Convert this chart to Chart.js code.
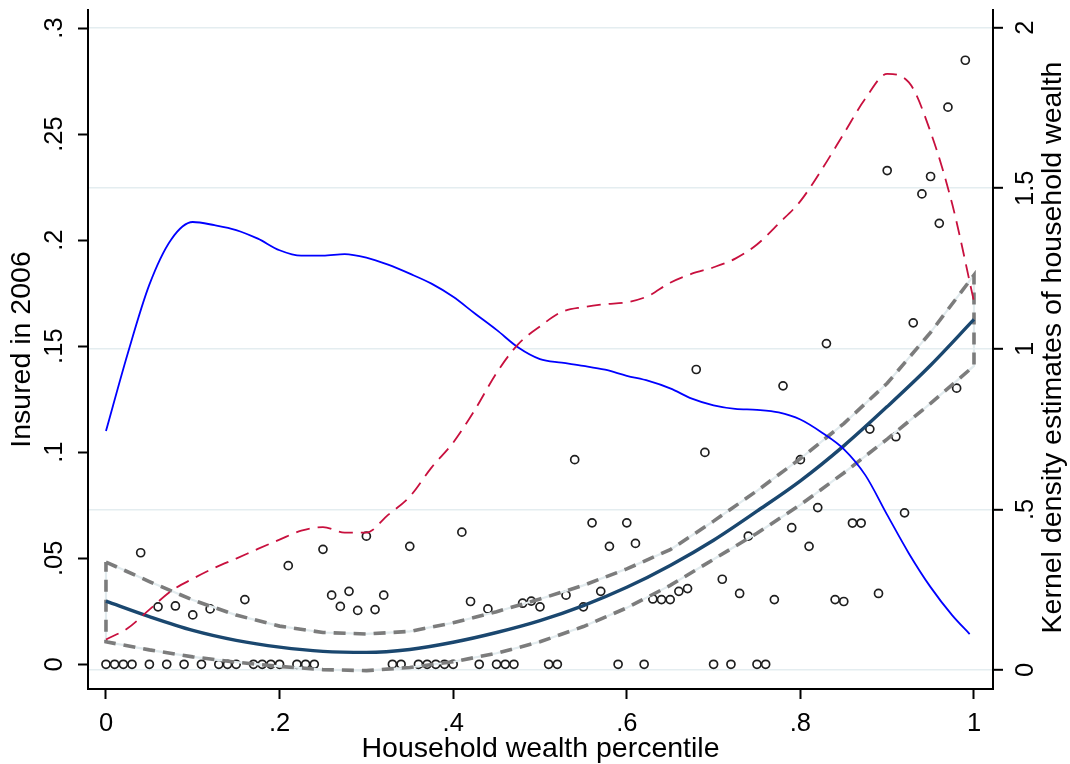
<!DOCTYPE html>
<html>
<head>
<meta charset="utf-8">
<script src="https://cdn.jsdelivr.net/npm/chart.js@4/dist/chart.umd.min.js"></script>
<style>
  html, body { margin: 0; padding: 0; background: #ffffff; }
  #wrap { width: 1070px; height: 764px; }
</style>
</head>
<body>
<div id="wrap"><canvas id="c" width="1070" height="764"></canvas></div>
<script>
// ---------------- DATA ----------------
const xTitle = 'Household wealth percentile';
const leftTitle = 'Insured in 2006';
const rightTitle = 'Kernel density estimates of household wealth';

const xTickValues = [0, 0.2, 0.4, 0.6, 0.8, 1];
const xTickLabels = ['0', '.2', '.4', '.6', '.8', '1'];
const leftTickValues = [0, 0.05, 0.1, 0.15, 0.2, 0.25, 0.3];
const leftTickLabels = ['0', '.05', '.1', '.15', '.2', '.25', '.3'];
const rightTickValues = [0, 0.5, 1, 1.5, 2];
const rightTickLabels = ['0', '.5', '1', '1.5', '2'];

// Scatter: share insured by wealth percentile bin
const pctX = [
  0.00,0.01,0.02,0.03,0.04,0.05,0.06,0.07,0.08,0.09,
  0.10,0.11,0.12,0.13,0.14,0.15,0.16,0.17,0.18,0.19,
  0.20,0.21,0.22,0.23,0.24,0.25,0.26,0.27,0.28,0.29,
  0.30,0.31,0.32,0.33,0.34,0.35,0.36,0.37,0.38,0.39,
  0.40,0.41,0.42,0.43,0.44,0.45,0.46,0.47,0.48,0.49,
  0.50,0.51,0.52,0.53,0.54,0.55,0.56,0.57,0.58,0.59,
  0.60,0.61,0.62,0.63,0.64,0.65,0.66,0.67,0.68,0.69,
  0.70,0.71,0.72,0.73,0.74,0.75,0.76,0.77,0.78,0.79,
  0.80,0.81,0.82,0.83,0.84,0.85,0.86,0.87,0.88,0.89,
  0.90,0.91,0.92,0.93,0.94,0.95,0.96,0.97,0.98,0.99
];
const insured = [
  0,0,0,0,0.0526,0,0.0271,0,0.0275,0,
  0.0233,0,0.0261,0,0,0,0.0305,0,0,0,
  0,0.0465,0,0,0,0.0542,0.0326,0.0273,0.0344,0.0254,
  0.0604,0.0258,0.0326,0,0,0.0556,0,0,0,0,
  0,0.0623,0.0296,0,0.0261,0,0,0,0.0288,0.0298,
  0.0271,0,0,0.0326,0.0965,0.0271,0.0667,0.0344,0.0556,0,
  0.0667,0.0570,0,0.0308,0.0305,0.0305,0.0344,0.0357,0.1390,0.0999,
  0,0.0401,0,0.0334,0.0604,0,0,0.0305,0.1313,0.0644,
  0.0965,0.0556,0.0739,0.1512,0.0305,0.0296,0.0666,0.0666,0.1109,0.0334,
  0.2328,0.1073,0.0714,0.1610,0.2218,0.2300,0.2079,0.2627,0.1302,0.2848
];

// Quadratic fit and its confidence band (left axis)
const fitX = [0,0.05,0.1,0.15,0.2,0.25,0.3,0.35,0.4,0.45,0.5,0.55,0.6,0.65,0.7,0.75,0.8,0.85,0.9,0.95,1];
const fitY = [0.0298,0.0225,0.0160,0.0113,0.0081,0.0061,0.0056,0.0070,0.0104,0.0150,0.0206,0.0277,0.0363,0.0466,0.0585,0.0722,0.0865,0.1030,0.1215,0.1410,0.1626];
const ciUpper = [0.0482,0.0390,0.0303,0.0232,0.0180,0.0150,0.0143,0.0155,0.0196,0.0248,0.0308,0.0372,0.0450,0.0540,0.0675,0.0818,0.0970,0.1135,0.1325,0.1565,0.1835];
const ciLower = [0.0106,0.0068,0.0035,0.0010,-0.0010,-0.0025,-0.0030,-0.0015,0.0012,0.0052,0.0106,0.0178,0.0266,0.0372,0.0495,0.0618,0.0752,0.0902,0.1062,0.1230,0.1407];

// Kernel densities (right axis)
const blueX = [0,0.025,0.05,0.075,0.1,0.125,0.15,0.175,0.2,0.225,0.25,0.275,0.3,0.325,0.35,0.375,0.4,0.425,0.45,0.475,0.5,0.525,0.55,0.575,0.6,0.625,0.65,0.675,0.7,0.725,0.75,0.775,0.8,0.825,0.85,0.875,0.9,0.925,0.95,0.975,0.995];
const blueDensity = [0.744,0.985,1.200,1.340,1.395,1.385,1.370,1.343,1.307,1.290,1.290,1.295,1.284,1.262,1.234,1.203,1.162,1.110,1.059,1.004,0.968,0.957,0.947,0.935,0.916,0.900,0.877,0.845,0.824,0.813,0.810,0.802,0.780,0.739,0.688,0.606,0.483,0.363,0.258,0.170,0.112];
const redX = [0,0.025,0.05,0.075,0.1,0.125,0.15,0.175,0.2,0.225,0.25,0.275,0.3,0.325,0.35,0.375,0.4,0.425,0.45,0.475,0.5,0.525,0.55,0.575,0.6,0.625,0.65,0.675,0.7,0.725,0.75,0.775,0.8,0.825,0.85,0.875,0.9,0.925,0.95,0.975,1];
const redDensity = [0.095,0.130,0.188,0.246,0.284,0.318,0.347,0.377,0.406,0.434,0.445,0.428,0.428,0.483,0.540,0.630,0.708,0.810,0.925,1.015,1.070,1.115,1.130,1.139,1.145,1.165,1.206,1.234,1.254,1.281,1.325,1.390,1.460,1.560,1.670,1.780,1.856,1.830,1.675,1.450,1.147];

// ---------------- BUILD ----------------
const pairs = (xs, ys) => xs.map((x, i) => ({x: x, y: ys[i]}));
const scatterData = pairs(pctX, insured);
const fitData = pairs(fitX, fitY);
const ciPath = pairs(fitX, ciUpper)
  .concat(pairs(fitX, ciLower).reverse())
  .concat([{x: fitX[0], y: ciUpper[0]}]);

const FONT = '"Liberation Sans", Arial, Helvetica, sans-serif';
Chart.defaults.font.family = FONT;
Chart.defaults.color = '#000000';

const tickFont = {size: 25.5, family: FONT};
const titleFont = {size: 28.5, family: FONT, lineHeight: 1};

function fixVertical(w) {
  return function (scale) {
    scale.width = w;
    scale.paddingTop = 0; scale.paddingBottom = 0;
    scale.paddingLeft = 0; scale.paddingRight = 0;
  };
}
function setTicks(values) {
  return function (scale) { scale.ticks = values.map(v => ({value: v})); };
}

const rightTitlePlugin = {
  id: 'rightTitle',
  afterDraw(chart) {
    const ctx = chart.ctx;
    const s = chart.scales.yR;
    const ca = chart.chartArea;
    ctx.save();
    ctx.font = titleFont.size + 'px ' + FONT;
    ctx.fillStyle = '#000000';
    ctx.textAlign = 'center';
    ctx.textBaseline = 'middle';
    ctx.translate(s.left + 60, (ca.top + ca.bottom) / 2 - 2);
    ctx.rotate(-Math.PI / 2);
    ctx.fillText(rightTitle, 0, 0);
    ctx.restore();
  }
};

const lineBase = {showLine: true, pointRadius: 0, pointHoverRadius: 0, fill: false};

new Chart(document.getElementById('c'), {
  type: 'scatter',
  data: {
    datasets: [
      Object.assign({}, lineBase, {
        label: 'kdensity 2', data: pairs(redX, redDensity), yAxisID: 'yR',
        borderColor: '#c8103e', borderWidth: 1.8, borderDash: [14, 8],
        cubicInterpolationMode: 'monotone', order: 1
      }),
      Object.assign({}, lineBase, {
        label: 'kdensity 1', data: pairs(blueX, blueDensity), yAxisID: 'yR',
        borderColor: '#0000ff', borderWidth: 1.8,
        cubicInterpolationMode: 'monotone', order: 2
      }),
      Object.assign({}, lineBase, {
        label: 'Fitted values', data: fitData, yAxisID: 'yL',
        borderColor: '#1a476f', borderWidth: 3.4,
        cubicInterpolationMode: 'monotone', order: 3
      }),
      Object.assign({}, lineBase, {
        label: '95% CI', data: ciPath, yAxisID: 'yL',
        borderColor: '#7c7c7c', borderWidth: 3.6, borderDash: [12, 8],
        borderCapStyle: 'butt', tension: 0, order: 4
      }),
      Object.assign({}, lineBase, {
        label: '95% CI outline', data: ciPath, yAxisID: 'yL',
        borderColor: '#e2ebee', borderWidth: 2.2, tension: 0, order: 5
      }),
      {
        label: 'Insured', data: scatterData, yAxisID: 'yL',
        showLine: false, pointStyle: 'circle', pointRadius: 4, pointHoverRadius: 4,
        pointBorderWidth: 1.7, borderColor: '#1e1e1e', backgroundColor: 'rgba(0,0,0,0)',
        pointBackgroundColor: 'rgba(0,0,0,0)', pointBorderColor: '#1e1e1e', order: 6
      }
    ]
  },
  options: {
    responsive: false,
    animation: false,
    events: [],
    devicePixelRatio: 1,
    layout: {padding: {top: 10, left: 0, right: 0, bottom: 0}, autoPadding: false},
    plugins: {legend: {display: false}, tooltip: {enabled: false}, title: {display: false}},
    scales: {
      x: {
        type: 'linear', position: 'bottom',
        min: -0.0207, max: 1.0219,
        afterBuildTicks: setTicks(xTickValues),
        afterFit: function (scale) {
          scale.height = 75;
          scale.paddingLeft = 0; scale.paddingRight = 0;
          scale.paddingTop = 0; scale.paddingBottom = 0;
        },
        grid: {drawOnChartArea: false, drawTicks: true, tickLength: 10, tickColor: '#000000', tickWidth: 2},
        border: {display: true, color: '#000000', width: 2},
        ticks: {
          font: tickFont, color: '#000000', padding: 10, maxRotation: 0, minRotation: 0, autoSkip: false,
          callback: function (v, i) { return xTickLabels[i]; }
        },
        title: {display: true, text: xTitle, font: titleFont, color: '#000000', padding: {top: 0, bottom: 0.65}}
      },
      yL: {
        type: 'linear', position: 'left',
        min: -0.01165, max: 0.3085,
        afterBuildTicks: setTicks(leftTickValues),
        afterFit: fixVertical(88),
        grid: {drawOnChartArea: false, drawTicks: true, tickLength: 10, tickColor: '#000000', tickWidth: 2},
        border: {display: true, color: '#000000', width: 2},
        ticks: {
          font: tickFont, color: '#000000', padding: 5, minRotation: 90, maxRotation: 90,
          crossAlign: 'center', autoSkip: false,
          callback: function (v, i) { return leftTickLabels[i]; }
        },
        title: {display: true, text: leftTitle, font: titleFont, color: '#000000', padding: {top: 8.2, bottom: 0}}
      },
      yR: {
        type: 'linear', position: 'right',
        min: -0.0592, max: 2.0551,
        afterBuildTicks: setTicks(rightTickValues),
        afterFit: fixVertical(77),
        grid: {drawOnChartArea: true, color: '#e4edf0', lineWidth: 1.6, drawTicks: true, tickLength: 10, tickColor: '#000000', tickWidth: 2},
        border: {display: true, color: '#000000', width: 2},
        ticks: {
          font: tickFont, color: '#000000', padding: 5.5, minRotation: 90, maxRotation: 90,
          crossAlign: 'center', autoSkip: false,
          callback: function (v, i) { return rightTickLabels[i]; }
        },
        title: {display: false}
      }
    }
  },
  plugins: [rightTitlePlugin]
});
</script>
</body>
</html>
